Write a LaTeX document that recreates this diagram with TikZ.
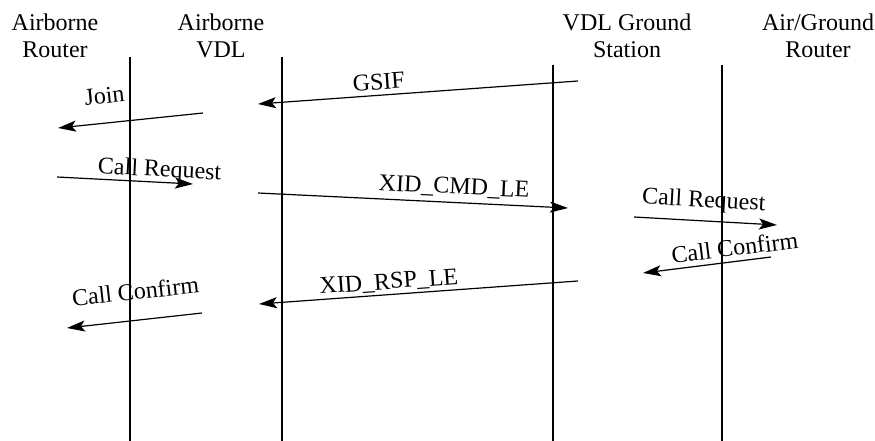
\documentclass[tikz,border=0pt]{standalone}
\usepackage{fontspec}
\setmainfont{Liberation Serif}
\usetikzlibrary{arrows.meta}
\begin{document}
\begin{tikzpicture}[x=1pt,y=-1pt,
    every node/.style={font=\fontsize{24}{27}\selectfont, inner sep=0pt},
    head/.style={align=center},
    life/.style={line width=2.4pt},
    msg/.style={line width=1.2pt, -{Stealth[length=18pt,width=11pt,inset=4pt]}},
    lbl/.style={sloped, text height=16pt, text depth=5pt}]

    \useasboundingbox (0,0) rectangle (875,441);

    % column headings
    \node[head] (hAR) at (55,36) {Airborne\\Router};
    \node[head] (hAV) at (221,36) {Airborne\\VDL};
    \node[head] (hGS) at (627,36) {VDL Ground\\Station};
    \node[head] (hGR) at (818,36) {Air/Ground\\Router};

    % lifelines
    \foreach \n/\x/\t in {ar/130/57, av/282/57, gs/553/65, gr/722/65} {
        \coordinate (\n top) at (\x,\t);
        \coordinate (\n bot) at (\x,441);
        \draw[life] (\n top) -- (\n bot);
    }

    % message end points
    \coordinate (gsifS) at (578,81);   \coordinate (gsifE) at (258,104);
    \coordinate (joinS) at (203,113);  \coordinate (joinE) at (58,128);
    \coordinate (creqAS) at (57,177);  \coordinate (creqAE) at (193,184);
    \coordinate (xcmdS) at (258,193);  \coordinate (xcmdE) at (568,208);
    \coordinate (creqGS) at (634,217); \coordinate (creqGE) at (777,225);
    \coordinate (cconGS) at (771,257); \coordinate (cconGE) at (643,273);
    \coordinate (xrspS) at (578,281);  \coordinate (xrspE) at (259,304);
    \coordinate (cconAS) at (202,313); \coordinate (cconAE) at (67,328);

    % messages
    \draw[msg] (gsifS) -- node[lbl, pos=0.62, above=0pt] (gsif) {GSIF} (gsifE);
    \draw[msg] (joinS) -- node[lbl, pos=0.66, above=14pt] (join) {Join} (joinE);
    \draw[msg] (creqAS) -- node[lbl, pos=0.75, above=0pt] (creqA) {Call Request} (creqAE);
    \draw[msg] (xcmdS) -- node[lbl, pos=0.63, above=3pt] (xcmd) {XID\_CMD\_LE} (xcmdE);
    \draw[msg] (creqGS) -- node[lbl, pos=0.48, above=8pt] (creqG) {Call Request} (creqGE);
    \draw[msg] (cconGS) -- node[lbl, pos=0.27, above=0pt] (cconG) {Call Confirm} (cconGE);
    \draw[msg] (xrspS) -- node[lbl, pos=0.59, above=0pt] (xrsp) {XID\_RSP\_LE} (xrspE);
    \draw[msg] (cconAS) -- node[lbl, pos=0.47, above=15pt] (cconA) {Call Confirm} (cconAE);
\end{tikzpicture}
\end{document}
